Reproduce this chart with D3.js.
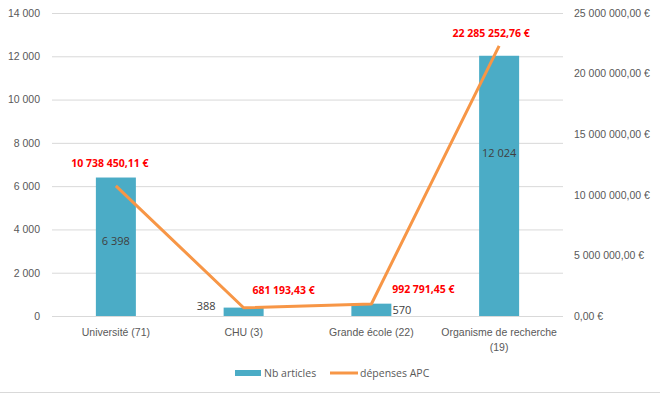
<!DOCTYPE html>
<html lang="fr">
<head>
  <meta charset="UTF-8">
  <title>Nb articles et dépenses APC</title>
  <script src="https://d3js.org/d3.v7.min.js"></script>
  <style>
    body { margin: 0; background: #fff; font-family: "Open Sans", Arial, sans-serif; }
    .grid line { stroke: #d9d9d9; }
    .grid path { display: none; }
    .axis text { fill: #595959; font-size: 10.5px; }
    .axis path, .axis line { display: none; }
    .bar { fill: #4bacc6; }
    .line { fill: none; stroke: #f79646; stroke-width: 3; stroke-linejoin: round; }
    .bar-label { fill: #404040; font-size: 11px; }
    .line-label { fill: #ff0000; font-size: 10.5px; font-weight: bold; }
    .legend text { fill: #595959; font-size: 10.5px; }
  </style>
</head>
<body>
<div id="chart"></div>
<script>
  const categories = ["Université (71)", "CHU (3)", "Grande école (22)", "Organisme de recherche (19)"];
  const nbArticles = [6398, 388, 570, 12024];
  const depensesAPC = [10738450.11, 681193.43, 992791.45, 22285252.76];
  const leftTicks = [0, 2000, 4000, 6000, 8000, 10000, 12000, 14000];
  const rightTicks = [0, 5000000, 10000000, 15000000, 20000000, 25000000];

  const svgWidth = 660, svgHeight = 394;
  const margin = { top: 13, right: 97, bottom: 78, left: 52 };
  const width = svgWidth - margin.left - margin.right;
  const height = svgHeight - margin.top - margin.bottom;

  const fr = d3.formatLocale({ decimal: ",", thousands: "\u00a0", grouping: [3], currency: ["", " €"] });
  const fmtInt = fr.format(",d");
  const fmtEur = fr.format("$,.2f");

  const x = d3.scaleBand().domain(categories).range([0, width]);
  const yL = d3.scaleLinear().domain([0, 14000]).range([height, 0]);
  const yR = d3.scaleLinear().domain([0, 25000000]).range([height, 0]);
  const barW = 40;
  const cx = c => x(c) + x.bandwidth() / 2;

  const svg = d3.select("#chart").append("svg")
    .attr("width", svgWidth).attr("height", svgHeight);

  svg.append("line")
    .attr("x1", 0).attr("x2", svgWidth)
    .attr("y1", 392.5).attr("y2", 392.5)
    .attr("stroke", "#d9d9d9");

  const g = svg.append("g").attr("transform", `translate(${margin.left},${margin.top})`);

  g.append("g").attr("class", "grid")
    .call(d3.axisLeft(yL).tickValues(leftTicks).tickSize(-width).tickFormat(""));

  g.append("g").attr("class", "axis")
    .call(d3.axisLeft(yL).tickValues(leftTicks).tickSize(0).tickPadding(12).tickFormat(fmtInt));

  g.append("g").attr("class", "axis")
    .attr("transform", `translate(${width},0)`)
    .call(d3.axisRight(yR).tickValues(rightTicks).tickSize(0).tickPadding(11).tickFormat(fmtEur));

  // category labels
  const xAxis = g.append("g").attr("class", "axis")
    .attr("transform", `translate(0,${height})`)
    .call(d3.axisBottom(x).tickSize(0).tickPadding(12).tickFormat(""));
  xAxis.selectAll(".tick").append("text")
    .attr("fill", "#595959")
    .attr("text-anchor", "middle")
    .each(function(d) {
      const t = d3.select(this);
      const lines = d === "Organisme de recherche (19)" ? ["Organisme de recherche", "(19)"] : [d];
      lines.forEach((l, i) => t.append("tspan").attr("x", 0).attr("y", 20 + i * 15).text(l));
    });

  g.selectAll(".bar")
    .data(categories)
    .join("rect")
    .attr("class", "bar")
    .attr("x", c => cx(c) - barW / 2)
    .attr("width", barW)
    .attr("y", (c, i) => yL(nbArticles[i]))
    .attr("height", (c, i) => height - yL(nbArticles[i]));

  // bar labels: inside for tall bars, beside for small ones (dy from bar middle)
  const barPos = ["in", "left", "right", "in"];
  const barDy = [-2, -2, 4, -29];
  g.selectAll(".bar-label")
    .data(categories)
    .join("text")
    .attr("class", "bar-label")
    .attr("x", (c, i) => barPos[i] === "in" ? cx(c) : barPos[i] === "left" ? cx(c) - barW / 2 - 8 : cx(c) + barW / 2 + 1)
    .attr("y", (c, i) => (yL(nbArticles[i]) + height) / 2 + barDy[i])
    .attr("text-anchor", (c, i) => barPos[i] === "in" ? "middle" : barPos[i] === "left" ? "end" : "start")
    .text((c, i) => fmtInt(nbArticles[i]));

  const line = d3.line()
    .x(d => cx(d.c))
    .y(d => yR(d.v));
  const pts = categories.map((c, i) => ({ c, v: depensesAPC[i] }));

  g.append("path").datum(pts).attr("class", "line").attr("d", line);

  const lblDx = [-6, 40, 52, -8];
  const lblDy = [-19, -14, -11, -9];
  g.selectAll(".line-label")
    .data(pts)
    .join("text")
    .attr("class", "line-label")
    .attr("text-anchor", "middle")
    .attr("x", (d, i) => cx(d.c) + lblDx[i])
    .attr("y", (d, i) => yR(d.v) + lblDy[i])
    .text(d => fmtEur(d.v));

  const legend = svg.append("g").attr("class", "legend").attr("transform", "translate(235,373)");
  legend.append("rect").attr("x", 0).attr("y", -3).attr("width", 26).attr("height", 6).attr("fill", "#4bacc6");
  legend.append("text").attr("x", 29).attr("y", 4).text("Nb articles");
  legend.append("line").attr("x1", 95).attr("x2", 123).attr("y1", 0).attr("y2", 0)
    .attr("stroke", "#f79646").attr("stroke-width", 3);
  legend.append("text").attr("x", 125).attr("y", 4).text("dépenses APC");
</script>
</body>
</html>
